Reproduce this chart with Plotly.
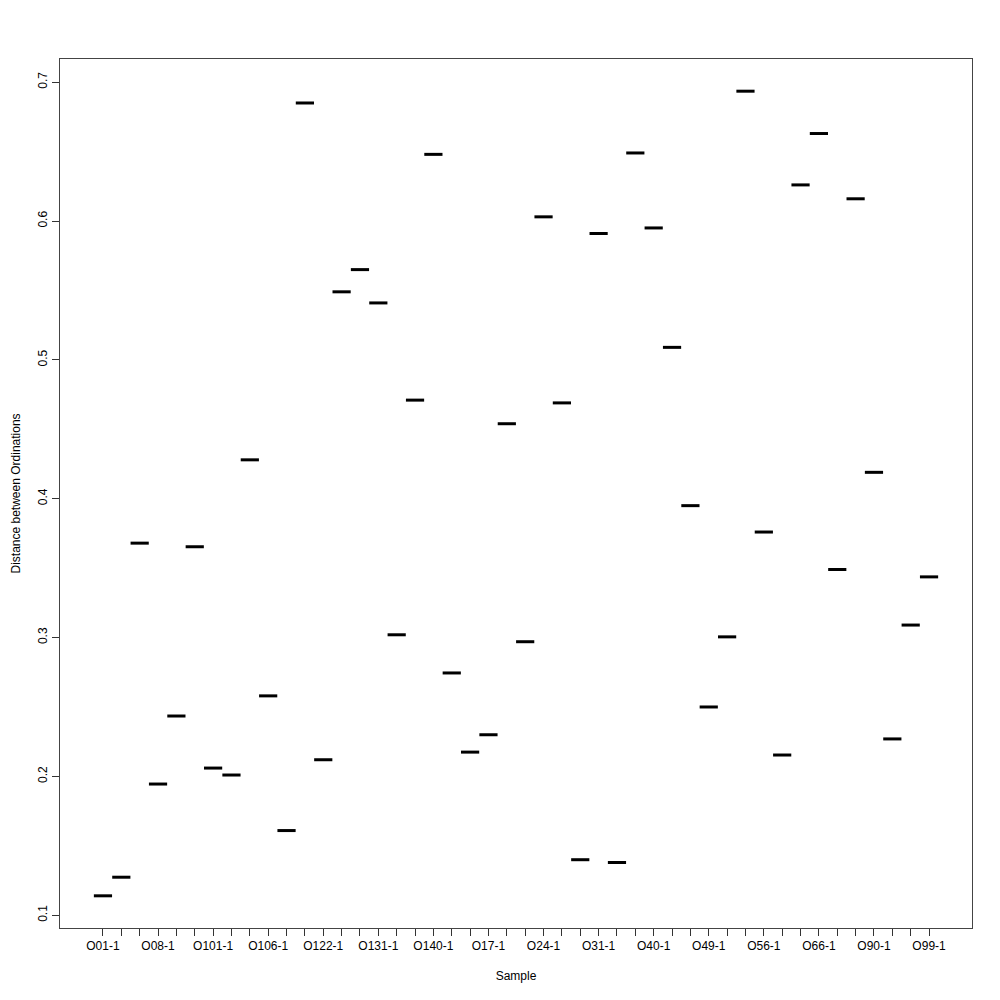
import plotly.graph_objects as go

samples = ["O01-1", "O03-1", "O05-1", "O08-1", "O09-1", "O10-1", "O101-1", "O102-1", "O104-1",
           "O106-1", "O11-1", "O12-1", "O122-1", "O125-1", "O128-1", "O131-1", "O134-1", "O137-1",
           "O140-1", "O143-1", "O15-1", "O17-1", "O19-1", "O21-1", "O24-1", "O26-1", "O28-1",
           "O31-1", "O33-1", "O36-1", "O40-1", "O42-1", "O45-1", "O49-1", "O51-1", "O53-1",
           "O56-1", "O59-1", "O62-1", "O66-1", "O70-1", "O80-1", "O90-1", "O93-1", "O96-1", "O99-1"]
distance = [0.114, 0.1274, 0.368, 0.1945, 0.2435, 0.3654, 0.206, 0.201, 0.428,
            0.258, 0.161, 0.685, 0.212, 0.549, 0.565, 0.541, 0.302, 0.471,
            0.648, 0.2745, 0.2175, 0.230, 0.454, 0.297, 0.603, 0.469, 0.140,
            0.591, 0.138, 0.649, 0.595, 0.509, 0.395, 0.250, 0.3005, 0.6935,
            0.376, 0.2154, 0.626, 0.663, 0.349, 0.616, 0.419, 0.227, 0.309, 0.3437]
y_ticks = [0.1, 0.2, 0.3, 0.4, 0.5, 0.6, 0.7]

pos = list(range(1, len(samples) + 1))
tick_text = [s if i % 3 == 0 else "" for i, s in enumerate(samples)]

fig = go.Figure()
fig.add_trace(go.Scatter(
    x=pos, y=distance, mode="markers",
    marker=dict(symbol="line-ew-open", size=13, color="black",
                line=dict(width=3, color="black")),
    text=samples, hoverinfo="text+y", showlegend=False,
))

font = dict(family="Liberation Sans, Arial, sans-serif", size=12, color="black")
ymin, ymax = min(distance), max(distance)
ext = (ymax - ymin) * 0.04
xext = (len(samples)) * 0.04

fig.update_layout(
    width=1000, height=1000,
    margin=dict(l=52, r=36, t=51, b=80),
    paper_bgcolor="white", plot_bgcolor="white",
    font=font,
    xaxis=dict(
        range=[0.5 - xext, len(samples) + 0.5 + xext],
        tickmode="array", tickvals=pos, ticktext=tick_text,
        ticks="outside", ticklen=7, tickcolor="#333", tickwidth=1,
        showgrid=False, zeroline=False, automargin=False,
        showline=True, linecolor="#444", linewidth=1, mirror=True,
        tickfont=font, tickangle=0,
        title=dict(text="Sample", font=font, standoff=19),
    ),
    yaxis=dict(
        range=[ymin - ext, ymax + ext],
        tickmode="array", tickvals=y_ticks, ticktext=[str(v) for v in y_ticks],
        ticks="outside", ticklen=7, tickcolor="#333", tickwidth=1,
        showgrid=False, zeroline=False, automargin=False,
        showline=True, linecolor="#444", linewidth=1, mirror=True,
        tickfont=font, tickangle=-90,
    ),
    annotations=[dict(
        text="Distance between Ordinations", textangle=-90,
        xref="paper", yref="paper", x=-45 / 912, y=0.5,
        xanchor="center", yanchor="middle", showarrow=False, font=font,
    )],
)

fig.write_html("out.html")
